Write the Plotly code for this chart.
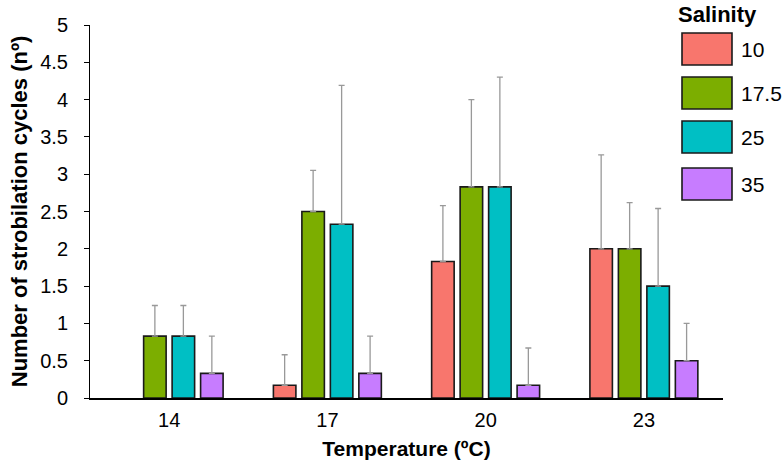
import plotly.graph_objects as go

temperatures = ["14", "17", "20", "23"]
salinities = ["10", "17.5", "25", "35"]
colors = ["#F8766D", "#7CAE00", "#00BFC4", "#C77CFF"]

values = {
    "10":   [None, 0.17, 1.83, 2.00],
    "17.5": [0.83, 2.50, 2.83, 2.00],
    "25":   [0.83, 2.33, 2.83, 1.50],
    "35":   [0.33, 0.33, 0.17, 0.50],
}
errors = {
    "10":   [None, 0.41, 0.75, 1.26],
    "17.5": [0.41, 0.55, 1.17, 0.62],
    "25":   [0.41, 1.86, 1.47, 1.04],
    "35":   [0.50, 0.50, 0.50, 0.50],
}
y_ticks = [0, 0.5, 1, 1.5, 2, 2.5, 3, 3.5, 4, 4.5, 5]

FONT = "Arial, Liberation Sans, sans-serif"
W, H = 783, 467
L, R, T, B = 90, 60, 25, 69


def px(xp):
    return (xp - L) / (W - L - R)


def py(yp):
    return 1 - (yp - T) / (H - T - B)


fig = go.Figure()
for s, c in zip(salinities, colors):
    fig.add_trace(go.Bar(
        x=temperatures, y=values[s], name=s,
        marker=dict(color=c, line=dict(color="#1a1a1a", width=1.6)),
        error_y=dict(type="data", array=errors[s], symmetric=False,
                     arrayminus=[0] * 4, color="#999999", thickness=1.3, width=3),
        showlegend=False,
    ))

# custom legend (large swatches like the reference)
fig.add_annotation(x=px(717), y=py(15), xref="paper", yref="paper",
                   text="<b>Salinity</b>", showarrow=False,
                   font=dict(size=22, color="black", family=FONT),
                   xanchor="center", yanchor="middle")
box_tops = [33, 77, 121, 168]
for s, c, top in zip(salinities, colors, box_tops):
    fig.add_shape(type="rect", xref="paper", yref="paper",
                  x0=px(682), x1=px(732), y0=py(top), y1=py(top + 32),
                  fillcolor=c, line=dict(color="#1a1a1a", width=1.6))
    fig.add_annotation(xref="paper", yref="paper", x=px(739), y=py(top + 16),
                       text=s, showarrow=False, xanchor="left", yanchor="middle",
                       font=dict(size=21, color="black", family=FONT))

fig.update_layout(
    width=W, height=H,
    margin=dict(l=L, r=R, t=T, b=B),
    barmode="group", bargap=0.28, bargroupgap=0.21,
    plot_bgcolor="white", paper_bgcolor="white",
    font=dict(family=FONT, color="black", size=20),
    xaxis=dict(
        showline=True, linecolor="black", linewidth=1.6,
        ticks="", showgrid=False, automargin=False,
        tickfont=dict(size=20), ticklabelstandoff=3,
        title=dict(text="<b>Temperature (ºC)</b>", font=dict(size=21), standoff=12),
    ),
    yaxis=dict(
        range=[0, 5], tickvals=y_ticks,
        ticktext=[f"{v:g}" for v in y_ticks],
        showline=True, linecolor="black", linewidth=1,
        ticks="outside", ticklen=5, tickcolor="black",
        showgrid=False, zeroline=False, automargin=False,
        tickfont=dict(size=20), ticklabelstandoff=12,
        title=dict(text="<b>Number of strobilation cycles (nº)</b>", font=dict(size=22), standoff=6),
    ),
)

fig.write_html("out.html")
